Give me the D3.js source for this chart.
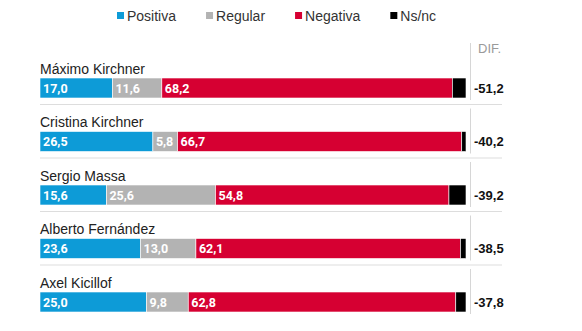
<!DOCTYPE html>
<html><head><meta charset="utf-8">
<script src="https://cdn.jsdelivr.net/npm/d3@7"></script>
<style>body{margin:0;background:#fff}svg{display:block}</style>
</head><body><svg id="c" width="582" height="331"></svg>
<script>
const names = ["Máximo Kirchner","Cristina Kirchner","Sergio Massa","Alberto Fernández","Axel Kicillof"];
const positiva = [17.0, 26.5, 15.6, 23.6, 25.0];
const regular  = [11.6, 5.8, 25.6, 13.0, 9.8];
const negativa = [68.2, 66.7, 54.8, 62.1, 62.8];
const nsnc     = [3.2, 1.0, 4.0, 1.3, 2.4];
const dif      = [-51.2, -40.2, -39.2, -38.5, -37.8];
const seriesNames = ["Positiva","Regular","Negativa","Ns/nc"];
const colors = ["#0d9bd7","#b3b3b3","#d60032","#000000"];

const fmt = v => d3.format(".1f")(v).replace(".", ",").replace("\u2212", "-");
const svg = d3.select("#c");
const x = d3.scaleLinear().domain([0,100]).range([40,466]);
const y = d3.scalePoint().domain(names).range([78,292]);
const barH = 20;
const color = d3.scaleOrdinal().domain(seriesNames).range(colors);

const rows = names.map((n,i)=>({name:n, vals:[positiva[i],regular[i],negativa[i],nsnc[i]], dif:dif[i]}));

// legend
const lg = svg.append("g");
let lx = 117;
seriesNames.forEach(s=>{
  lg.append("rect").attr("x",lx).attr("y",12).attr("width",7).attr("height",7).attr("fill",color(s));
  const t = lg.append("text").attr("x",lx+10).attr("y",20.5).text(s)
    .attr("font-family","Liberation Sans, Arial, sans-serif").attr("font-size",14).attr("fill","#333");
  lx = lx + 10 + t.node().getComputedTextLength() + 30;
});

// DIF header
svg.append("text").attr("x",478).attr("y",53).text("DIF.")
  .attr("font-family","Liberation Sans, Arial, sans-serif").attr("font-size",13).attr("fill","#9a9a9a");

rows.forEach((r,i)=>{
  const top = y(r.name);
  const g = svg.append("g");
  if (i < rows.length-1) {
    g.append("line").attr("x1",40).attr("x2",502).attr("y1",top+barH+6.5).attr("y2",top+barH+6.5)
      .attr("stroke","#dddddd").attr("stroke-width",1);
  }
  const vTop = i===0 ? 43 : top - 23;
  g.append("line").attr("x1",470.5).attr("x2",470.5).attr("y1",vTop).attr("y2",top+barH+2)
    .attr("stroke","#d6d6d6").attr("stroke-width",1);
  g.append("text").attr("x",40).attr("y",top-4.5).text(r.name)
    .attr("font-family","Liberation Sans, Arial, sans-serif").attr("font-size",14).attr("fill","#222");
  let cum = 0;
  r.vals.forEach((v,k)=>{
    const x0 = x(cum), x1 = x(cum+v);
    g.append("rect").attr("x",x0).attr("y",top).attr("width",Math.max(0,x1-x0)).attr("height",barH)
      .attr("fill",colors[k]).attr("stroke","#fff").attr("stroke-width",0.6);
    if (k<3) {
      g.append("text").attr("x",x0+3).attr("y",top+barH/2+4.5).text(fmt(v))
        .attr("font-family","Liberation Sans Narrow, Roboto, Arial, sans-serif").attr("font-weight","bold")
        .attr("font-size",12.5).attr("fill","#fff");
    }
    cum += v;
  });
  g.append("text").attr("x",474).attr("y",top+barH/2+4.5).text(fmt(r.dif))
    .attr("font-family","Liberation Sans, Arial, sans-serif").attr("font-weight","bold")
    .attr("font-size",13).attr("fill","#111");
});
</script></body></html>
